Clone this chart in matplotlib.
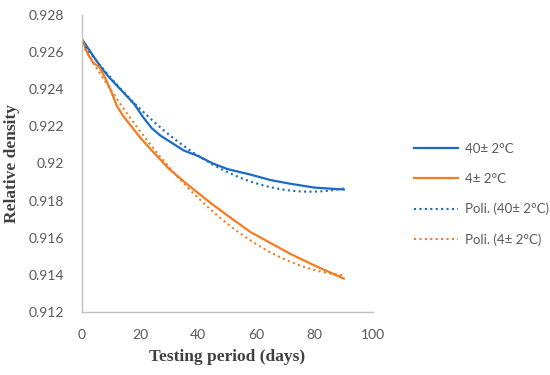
import numpy as np
import matplotlib.pyplot as plt

# values
days_40 = [0, 3, 6, 9, 12, 15, 18, 21, 24, 27, 30, 35, 40, 45, 50, 58, 65, 72, 80, 90]
dens_40 = [0.9267, 0.9260, 0.9253, 0.9247, 0.9242, 0.9237, 0.9232, 0.9225,
           0.9219, 0.9215, 0.9212, 0.9207, 0.9204, 0.9200, 0.9197, 0.9194,
           0.9191, 0.9189, 0.9187, 0.9186]

days_4 = [0, 1, 2, 4, 6, 8, 10, 12, 14, 17, 20, 24, 30, 36, 44, 50, 58, 65, 72, 80, 90]
dens_4 = [0.9267, 0.9263, 0.9259, 0.9254, 0.9252, 0.9246, 0.9239, 0.9231,
          0.9226, 0.9220, 0.9214, 0.9207, 0.9197, 0.9189, 0.9179, 0.9172,
          0.9163, 0.9157, 0.9151, 0.9145, 0.9138]

# points on the dotted polynomial trendlines
trend_days_40 = [0, 15, 23, 30, 44, 58, 72, 82, 90]
trend_40 = [0.9265, 0.9237, 0.9226, 0.92153, 0.92002, 0.9190, 0.91851,
            0.91851, 0.91867]
trend_days_4 = [0, 6, 11, 16, 25, 30, 44, 58, 72, 82, 90]
trend_4 = [0.9265, 0.9250, 0.92358, 0.9225, 0.92056, 0.92002, 0.91749,
           0.91587, 0.91475, 0.91422, 0.91390]

labels = ['40± 2°C', '4± 2°C', 'Poli. (40± 2°C)', 'Poli. (4± 2°C)']
c_blue = '#1A6AC6'
c_orange = '#F47B20'
tick_col = '#595959'

fig = plt.figure(figsize=(5.5, 3.75), dpi=100)
ax = fig.add_axes([0.149, 0.168, 0.529, 0.792])

ax.plot(days_40, dens_40, color=c_blue, lw=1.6, label=labels[0])
ax.plot(days_4, dens_4, color=c_orange, lw=1.6, label=labels[1])

# order-2 polynomial trendlines
for d, v, c, lab in [(trend_days_40, trend_40, c_blue, labels[2]),
                     (trend_days_4, trend_4, c_orange, labels[3])]:
    p = np.polyfit(d, v, 2)
    xs = np.linspace(min(d), max(d), 200)
    ax.plot(xs, np.polyval(p, xs), color=c, lw=1.5,
            linestyle=(0, (1, 1.6)), label=lab)

ax.set_xlim(0, 100)
ax.set_ylim(0.912, 0.928)
ax.set_xticks([0, 20, 40, 60, 80, 100])
ax.set_yticks([0.912, 0.914, 0.916, 0.918, 0.92, 0.922, 0.924, 0.926, 0.928])
ax.set_yticklabels(['0.912', '0.914', '0.916', '0.918', '0.92', '0.922',
                    '0.924', '0.926', '0.928'])
ax.tick_params(length=0, labelsize=10, labelcolor=tick_col)
ax.tick_params(axis='y', pad=13)
ax.tick_params(axis='x', pad=12)
for lab in ax.get_xticklabels() + ax.get_yticklabels():
    lab.set_family('Lato')

for s in ['top', 'right']:
    ax.spines[s].set_visible(False)
for s in ['left', 'bottom']:
    ax.spines[s].set_color('#BFBFBF')
    ax.spines[s].set_linewidth(1.0)

ax.set_xlabel('Testing period (days)', fontsize=12.5, fontweight='bold',
              family='Liberation Serif', color='#404040', labelpad=6)
ax.set_ylabel('Relative density', fontsize=12.5, fontweight='bold',
              family='Liberation Serif', color='#404040', labelpad=6)

leg = fig.legend(loc='center left', bbox_to_anchor=(0.732, 0.482), frameon=False,
                 prop={'family': 'Lato', 'size': 9.5}, handlelength=3.3,
                 labelspacing=1.35, handletextpad=0.5)
for t in leg.get_texts():
    t.set_color(tick_col)

fig.savefig('out.png', dpi=100)
